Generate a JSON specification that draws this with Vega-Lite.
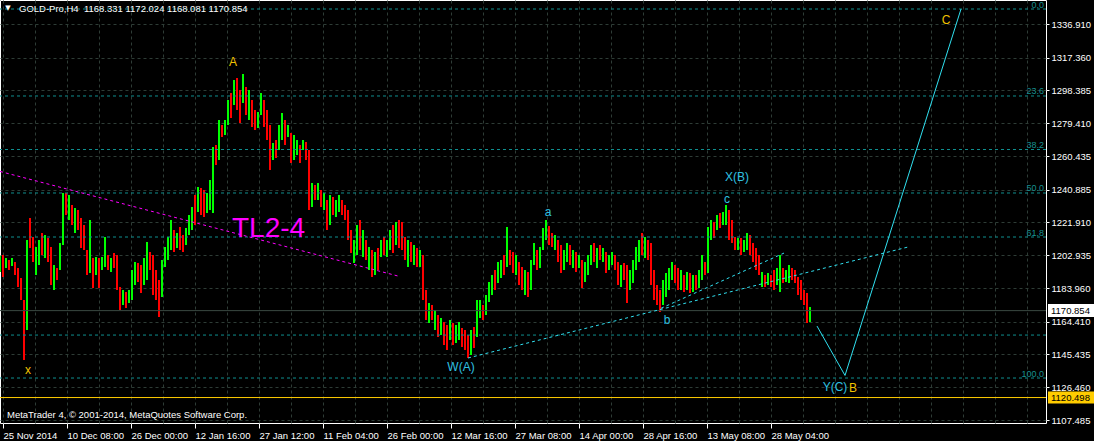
{
"$schema":"https://vega.github.io/schema/vega-lite/v6.json",
"width":1046,"height":423,
"autosize":{"type":"none"},
"padding":{"left":0,"top":0,"right":48,"bottom":18},
"background":"#000000",
"config":{"view":{"stroke":"#ffffff","strokeWidth":1},
 "axis":{"labelColor":"#ffffff","tickColor":"#ffffff","domain":false,"labelFont":"Liberation Sans","labelFontSize":9.5,"gridColor":"#2e3c36","gridDash":[3,3],"title":null}},
"resolve":{"scale":{"color":"independent"},"axis":{"x":"independent","y":"independent"}},
"datasets":{
"bars":[
{"i":0,"h":1202.5,"l":1193.2,"d":"u"},{"i":3,"h":1203.1,"l":1190.3,"d":"d"},{"i":6,"h":1201.3,"l":1195.5,"d":"u"},{"i":9,"h":1200.2,"l":1194.4,"d":"d"},{"i":12,"h":1201.3,"l":1196.7,"d":"u"},{"i":15,"h":1199.0,"l":1191.5,"d":"d"},{"i":18,"h":1195.5,"l":1184.5,"d":"d"},{"i":21,"h":1189.8,"l":1177.0,"d":"d"},{"i":24,"h":1177.0,"l":1142.2,"d":"d"},{"i":27,"h":1211.8,"l":1159.6,"d":"u"},
{"i":30,"h":1224.5,"l":1207.1,"d":"d"},{"i":33,"h":1213.5,"l":1199.0,"d":"d"},{"i":36,"h":1207.7,"l":1191.5,"d":"u"},{"i":39,"h":1211.8,"l":1197.3,"d":"u"},{"i":42,"h":1215.8,"l":1203.1,"d":"d"},{"i":45,"h":1214.7,"l":1201.3,"d":"u"},{"i":48,"h":1212.9,"l":1199.0,"d":"d"},{"i":51,"h":1207.7,"l":1185.7,"d":"d"},{"i":54,"h":1197.3,"l":1182.8,"d":"u"},{"i":57,"h":1195.5,"l":1188.6,"d":"d"},
{"i":60,"h":1210.0,"l":1194.4,"d":"u"},{"i":63,"h":1239.0,"l":1208.9,"d":"u"},{"i":66,"h":1239.0,"l":1226.3,"d":"d"},{"i":69,"h":1237.8,"l":1223.4,"d":"u"},{"i":72,"h":1232.0,"l":1220.5,"d":"d"},{"i":75,"h":1230.3,"l":1215.8,"d":"u"},{"i":78,"h":1229.2,"l":1217.6,"d":"d"},{"i":81,"h":1224.5,"l":1207.1,"d":"d"},{"i":84,"h":1220.5,"l":1206.0,"d":"d"},{"i":87,"h":1206.0,"l":1191.5,"d":"d"},
{"i":90,"h":1223.4,"l":1192.6,"d":"u"},{"i":93,"h":1201.3,"l":1183.9,"d":"d"},{"i":96,"h":1201.9,"l":1191.5,"d":"u"},{"i":99,"h":1201.3,"l":1184.0,"d":"d"},{"i":102,"h":1201.9,"l":1194.4,"d":"u"},{"i":105,"h":1213.5,"l":1196.1,"d":"u"},{"i":108,"h":1203.1,"l":1194.4,"d":"d"},{"i":111,"h":1201.3,"l":1193.2,"d":"u"},{"i":114,"h":1204.2,"l":1195.5,"d":"d"},{"i":117,"h":1203.1,"l":1182.8,"d":"d"},
{"i":120,"h":1184.5,"l":1171.2,"d":"d"},{"i":123,"h":1182.8,"l":1174.1,"d":"u"},{"i":126,"h":1181.6,"l":1172.4,"d":"d"},{"i":129,"h":1182.8,"l":1175.3,"d":"u"},{"i":132,"h":1194.4,"l":1177.0,"d":"u"},{"i":135,"h":1199.0,"l":1185.7,"d":"u"},{"i":138,"h":1198.4,"l":1187.4,"d":"d"},{"i":141,"h":1197.3,"l":1181.1,"d":"d"},{"i":144,"h":1201.3,"l":1185.7,"d":"u"},{"i":147,"h":1210.6,"l":1188.6,"d":"u"},
{"i":150,"h":1204.8,"l":1194.4,"d":"d"},{"i":153,"h":1203.1,"l":1179.9,"d":"d"},{"i":156,"h":1194.4,"l":1177.0,"d":"d"},{"i":159,"h":1188.6,"l":1167.2,"d":"d"},{"i":162,"h":1200.2,"l":1178.7,"d":"u"},{"i":165,"h":1207.7,"l":1196.1,"d":"u"},{"i":168,"h":1213.5,"l":1200.2,"d":"u"},{"i":171,"h":1223.4,"l":1206.0,"d":"u"},{"i":174,"h":1217.6,"l":1204.8,"d":"d"},{"i":177,"h":1215.8,"l":1207.1,"d":"u"},
{"i":180,"h":1219.3,"l":1206.0,"d":"d"},{"i":183,"h":1214.7,"l":1204.8,"d":"d"},{"i":186,"h":1218.7,"l":1208.9,"d":"u"},{"i":189,"h":1226.3,"l":1214.7,"d":"u"},{"i":192,"h":1230.9,"l":1217.6,"d":"u"},{"i":195,"h":1237.8,"l":1220.5,"d":"d"},{"i":198,"h":1242.5,"l":1228.0,"d":"u"},{"i":201,"h":1241.9,"l":1226.3,"d":"d"},{"i":204,"h":1240.7,"l":1225.1,"d":"d"},{"i":207,"h":1239.0,"l":1227.4,"d":"u"},
{"i":210,"h":1246.5,"l":1229.2,"d":"u"},{"i":213,"h":1265.7,"l":1227.4,"d":"u"},{"i":216,"h":1266.8,"l":1255.2,"d":"d"},{"i":219,"h":1281.3,"l":1258.1,"d":"u"},{"i":222,"h":1278.4,"l":1271.4,"d":"d"},{"i":225,"h":1281.3,"l":1272.6,"d":"u"},{"i":228,"h":1292.9,"l":1278.4,"d":"u"},{"i":231,"h":1297.0,"l":1282.4,"d":"d"},{"i":234,"h":1304.5,"l":1290.0,"d":"u"},{"i":237,"h":1305.6,"l":1287.1,"d":"d"},
{"i":240,"h":1298.7,"l":1279.6,"d":"d"},{"i":243,"h":1307.9,"l":1291.1,"d":"u"},{"i":246,"h":1300.4,"l":1284.2,"d":"d"},{"i":249,"h":1298.7,"l":1281.3,"d":"u"},{"i":252,"h":1292.9,"l":1277.2,"d":"d"},{"i":255,"h":1287.1,"l":1275.5,"d":"d"},{"i":258,"h":1285.9,"l":1276.7,"d":"u"},{"i":261,"h":1296.9,"l":1284.2,"d":"u"},{"i":264,"h":1292.9,"l":1277.2,"d":"d"},{"i":267,"h":1287.1,"l":1269.7,"d":"d"},
{"i":270,"h":1278.4,"l":1252.3,"d":"d"},{"i":273,"h":1268.0,"l":1258.1,"d":"u"},{"i":276,"h":1269.7,"l":1259.3,"d":"d"},{"i":279,"h":1278.4,"l":1263.9,"d":"u"},{"i":282,"h":1285.3,"l":1269.7,"d":"u"},{"i":285,"h":1281.3,"l":1266.8,"d":"d"},{"i":288,"h":1278.4,"l":1271.4,"d":"u"},{"i":291,"h":1273.8,"l":1256.4,"d":"d"},{"i":294,"h":1272.6,"l":1258.1,"d":"u"},{"i":297,"h":1269.7,"l":1261.0,"d":"u"},
{"i":300,"h":1266.8,"l":1256.4,"d":"d"},{"i":303,"h":1269.7,"l":1263.9,"d":"u"},{"i":306,"h":1268.5,"l":1258.1,"d":"d"},{"i":309,"h":1263.9,"l":1229.2,"d":"d"},{"i":312,"h":1244.8,"l":1230.9,"d":"u"},{"i":315,"h":1243.6,"l":1234.9,"d":"d"},{"i":318,"h":1244.8,"l":1234.9,"d":"u"},{"i":321,"h":1240.7,"l":1230.9,"d":"d"},{"i":324,"h":1239.0,"l":1229.2,"d":"u"},{"i":327,"h":1234.9,"l":1217.6,"d":"d"},
{"i":330,"h":1237.8,"l":1220.5,"d":"u"},{"i":333,"h":1236.7,"l":1226.3,"d":"d"},{"i":336,"h":1234.9,"l":1225.1,"d":"u"},{"i":339,"h":1237.8,"l":1228.0,"d":"u"},{"i":342,"h":1234.9,"l":1226.3,"d":"d"},{"i":345,"h":1232.0,"l":1223.4,"d":"d"},{"i":348,"h":1229.2,"l":1211.8,"d":"d"},{"i":351,"h":1217.6,"l":1204.2,"d":"d"},{"i":354,"h":1211.8,"l":1198.4,"d":"u"},{"i":357,"h":1220.5,"l":1203.1,"d":"u"},
{"i":360,"h":1223.4,"l":1206.0,"d":"d"},{"i":363,"h":1217.6,"l":1201.9,"d":"u"},{"i":366,"h":1211.8,"l":1200.2,"d":"d"},{"i":369,"h":1207.7,"l":1194.4,"d":"u"},{"i":372,"h":1206.0,"l":1190.3,"d":"d"},{"i":375,"h":1204.8,"l":1191.5,"d":"u"},{"i":378,"h":1207.1,"l":1194.4,"d":"d"},{"i":381,"h":1211.8,"l":1201.9,"d":"u"},{"i":384,"h":1213.5,"l":1203.1,"d":"d"},{"i":387,"h":1211.8,"l":1201.9,"d":"u"},
{"i":390,"h":1217.6,"l":1206.0,"d":"u"},{"i":393,"h":1220.5,"l":1204.2,"d":"d"},{"i":396,"h":1222.2,"l":1208.9,"d":"u"},{"i":399,"h":1223.4,"l":1207.1,"d":"d"},{"i":402,"h":1222.2,"l":1206.0,"d":"d"},{"i":405,"h":1213.5,"l":1200.2,"d":"d"},{"i":408,"h":1211.8,"l":1196.1,"d":"u"},{"i":411,"h":1210.6,"l":1199.0,"d":"d"},{"i":414,"h":1208.9,"l":1197.3,"d":"u"},{"i":417,"h":1207.1,"l":1196.1,"d":"d"},
{"i":420,"h":1206.0,"l":1196.1,"d":"u"},{"i":423,"h":1203.1,"l":1177.0,"d":"d"},{"i":426,"h":1182.8,"l":1165.4,"d":"d"},{"i":429,"h":1175.3,"l":1163.7,"d":"u"},{"i":432,"h":1174.1,"l":1165.4,"d":"d"},{"i":435,"h":1171.2,"l":1159.6,"d":"u"},{"i":438,"h":1168.3,"l":1155.6,"d":"d"},{"i":441,"h":1166.6,"l":1156.7,"d":"u"},{"i":444,"h":1164.3,"l":1150.9,"d":"d"},{"i":447,"h":1162.5,"l":1148.0,"d":"d"},
{"i":450,"h":1165.4,"l":1153.8,"d":"u"},{"i":453,"h":1163.7,"l":1150.9,"d":"d"},{"i":456,"h":1162.5,"l":1152.1,"d":"u"},{"i":459,"h":1164.3,"l":1153.8,"d":"u"},{"i":462,"h":1160.8,"l":1149.8,"d":"d"},{"i":465,"h":1159.6,"l":1148.0,"d":"d"},{"i":468,"h":1156.7,"l":1143.4,"d":"d"},{"i":471,"h":1159.6,"l":1145.1,"d":"u"},{"i":474,"h":1161.4,"l":1149.2,"d":"d"},{"i":477,"h":1177.0,"l":1155.6,"d":"u"},
{"i":480,"h":1177.0,"l":1166.6,"d":"u"},{"i":483,"h":1174.1,"l":1165.4,"d":"d"},{"i":486,"h":1179.9,"l":1168.3,"d":"u"},{"i":489,"h":1187.4,"l":1175.8,"d":"u"},{"i":492,"h":1191.5,"l":1179.9,"d":"u"},{"i":495,"h":1194.4,"l":1182.8,"d":"d"},{"i":498,"h":1199.0,"l":1186.9,"d":"u"},{"i":501,"h":1200.2,"l":1189.8,"d":"u"},{"i":504,"h":1203.1,"l":1191.5,"d":"d"},{"i":507,"h":1219.3,"l":1196.1,"d":"u"},
{"i":510,"h":1206.0,"l":1197.3,"d":"d"},{"i":513,"h":1204.8,"l":1192.6,"d":"d"},{"i":516,"h":1203.1,"l":1191.5,"d":"u"},{"i":519,"h":1199.0,"l":1185.7,"d":"d"},{"i":522,"h":1196.1,"l":1182.8,"d":"d"},{"i":525,"h":1194.4,"l":1179.9,"d":"u"},{"i":528,"h":1193.2,"l":1178.7,"d":"d"},{"i":531,"h":1200.2,"l":1182.8,"d":"u"},{"i":534,"h":1210.0,"l":1197.3,"d":"u"},{"i":537,"h":1206.0,"l":1194.4,"d":"d"},
{"i":540,"h":1207.7,"l":1195.5,"d":"u"},{"i":543,"h":1218.7,"l":1206.0,"d":"u"},{"i":546,"h":1223.4,"l":1211.8,"d":"u"},{"i":549,"h":1219.9,"l":1208.9,"d":"d"},{"i":552,"h":1215.8,"l":1207.7,"d":"d"},{"i":555,"h":1214.7,"l":1206.0,"d":"u"},{"i":558,"h":1211.8,"l":1199.0,"d":"d"},{"i":561,"h":1208.9,"l":1192.6,"d":"d"},{"i":564,"h":1206.0,"l":1194.4,"d":"u"},{"i":567,"h":1210.0,"l":1199.0,"d":"u"},
{"i":570,"h":1208.9,"l":1197.3,"d":"d"},{"i":573,"h":1206.0,"l":1195.5,"d":"u"},{"i":576,"h":1204.8,"l":1193.2,"d":"d"},{"i":579,"h":1203.1,"l":1195.5,"d":"u"},{"i":582,"h":1200.2,"l":1184.0,"d":"d"},{"i":585,"h":1199.0,"l":1187.4,"d":"u"},{"i":588,"h":1203.1,"l":1191.5,"d":"u"},{"i":591,"h":1208.9,"l":1197.3,"d":"u"},{"i":594,"h":1210.0,"l":1199.0,"d":"d"},{"i":597,"h":1207.1,"l":1195.5,"d":"u"},
{"i":600,"h":1208.9,"l":1200.2,"d":"d"},{"i":603,"h":1207.1,"l":1199.0,"d":"u"},{"i":606,"h":1204.8,"l":1192.6,"d":"d"},{"i":609,"h":1203.1,"l":1194.4,"d":"u"},{"i":612,"h":1204.8,"l":1197.3,"d":"u"},{"i":615,"h":1203.1,"l":1194.4,"d":"d"},{"i":618,"h":1199.0,"l":1185.7,"d":"d"},{"i":621,"h":1197.3,"l":1184.5,"d":"u"},{"i":624,"h":1198.4,"l":1188.6,"d":"d"},{"i":627,"h":1197.3,"l":1175.3,"d":"d"},
{"i":630,"h":1194.4,"l":1182.8,"d":"u"},{"i":633,"h":1200.2,"l":1186.9,"d":"u"},{"i":636,"h":1207.7,"l":1194.4,"d":"u"},{"i":639,"h":1211.8,"l":1199.0,"d":"u"},{"i":642,"h":1215.8,"l":1203.1,"d":"d"},{"i":645,"h":1213.5,"l":1201.3,"d":"u"},{"i":648,"h":1211.8,"l":1200.2,"d":"d"},{"i":651,"h":1210.0,"l":1185.7,"d":"d"},{"i":654,"h":1194.4,"l":1177.0,"d":"d"},{"i":657,"h":1185.7,"l":1174.1,"d":"d"},
{"i":660,"h":1182.8,"l":1170.1,"d":"d"},{"i":663,"h":1188.6,"l":1174.1,"d":"u"},{"i":666,"h":1192.6,"l":1178.7,"d":"u"},{"i":669,"h":1195.5,"l":1182.8,"d":"u"},{"i":672,"h":1199.0,"l":1188.6,"d":"u"},{"i":675,"h":1197.3,"l":1186.9,"d":"d"},{"i":678,"h":1195.5,"l":1182.8,"d":"d"},{"i":681,"h":1194.4,"l":1182.8,"d":"u"},{"i":684,"h":1191.5,"l":1181.6,"d":"d"},{"i":687,"h":1193.2,"l":1182.8,"d":"u"},
{"i":690,"h":1192.6,"l":1181.1,"d":"d"},{"i":693,"h":1191.5,"l":1181.6,"d":"u"},{"i":696,"h":1191.5,"l":1182.8,"d":"d"},{"i":699,"h":1194.4,"l":1184.0,"d":"u"},{"i":702,"h":1203.1,"l":1188.6,"d":"u"},{"i":705,"h":1199.0,"l":1191.5,"d":"d"},{"i":708,"h":1219.3,"l":1192.6,"d":"u"},{"i":711,"h":1223.4,"l":1211.8,"d":"u"},{"i":714,"h":1222.2,"l":1212.9,"d":"d"},{"i":717,"h":1226.3,"l":1217.6,"d":"u"},
{"i":720,"h":1227.4,"l":1218.7,"d":"d"},{"i":723,"h":1228.0,"l":1220.5,"d":"u"},{"i":726,"h":1232.0,"l":1220.5,"d":"u"},{"i":729,"h":1229.2,"l":1211.8,"d":"d"},{"i":732,"h":1223.4,"l":1210.0,"d":"d"},{"i":735,"h":1213.5,"l":1206.0,"d":"d"},{"i":738,"h":1212.9,"l":1206.0,"d":"u"},{"i":741,"h":1212.9,"l":1203.1,"d":"d"},{"i":744,"h":1211.8,"l":1204.8,"d":"u"},{"i":747,"h":1215.8,"l":1206.0,"d":"u"},
{"i":750,"h":1214.7,"l":1203.1,"d":"d"},{"i":753,"h":1210.0,"l":1199.0,"d":"d"},{"i":756,"h":1207.1,"l":1194.4,"d":"d"},{"i":759,"h":1203.1,"l":1191.5,"d":"d"},{"i":762,"h":1193.2,"l":1184.5,"d":"u"},{"i":765,"h":1191.5,"l":1184.5,"d":"d"},{"i":768,"h":1192.6,"l":1185.7,"d":"u"},{"i":771,"h":1191.5,"l":1184.5,"d":"d"},{"i":774,"h":1194.4,"l":1182.8,"d":"d"},{"i":777,"h":1195.5,"l":1185.7,"d":"u"},
{"i":780,"h":1203.1,"l":1181.6,"d":"u"},{"i":783,"h":1195.5,"l":1186.9,"d":"d"},{"i":786,"h":1194.4,"l":1187.4,"d":"u"},{"i":789,"h":1197.3,"l":1186.9,"d":"u"},{"i":792,"h":1195.5,"l":1188.6,"d":"d"},{"i":795,"h":1194.4,"l":1186.9,"d":"d"},{"i":798,"h":1190.3,"l":1179.9,"d":"d"},{"i":801,"h":1188.6,"l":1177.0,"d":"d"},{"i":804,"h":1182.8,"l":1174.1,"d":"d"},{"i":807,"h":1181.1,"l":1163.7,"d":"d"},
{"i":810,"h":1172.9,"l":1164.3,"d":"u"}
],
"fib":[
{"p":1345.6,"t":"0.0"},{"p":1295.2,"t":"23.6"},{"p":1264.2,"t":"38.2"},{"p":1239.0,"t":"50.0"},{"p":1213.5,"t":"61.8"},{"p":1156.7,"t":""},{"p":1131.8,"t":"100.0"}
],
"lines":[
{"g":"tl","i":0,"p":1251.5},{"g":"tl","i":398,"p":1190.9},
{"g":"wa","i":468,"p":1143.4},{"g":"wa","i":908,"p":1207.7},
{"g":"bl","i":661,"p":1172.2},{"g":"bl","i":784,"p":1204.2},
{"g":"yc","i":817,"p":1161.9},{"g":"yc","i":845,"p":1133.3},{"g":"yc","i":961,"p":1345.6}
],
"labels":[
{"t":"A","i":233,"p":1314.9,"k":"y"},{"t":"x","i":28,"p":1136.2,"k":"y"},{"t":"C","i":946,"p":1339.2,"k":"y"},{"t":"B","i":853,"p":1126.0,"k":"y"},
{"t":"Y(C)","i":835,"p":1126.6,"k":"c"},{"t":"W(A)","i":461,"p":1138.2,"k":"c"},{"t":"X(B)","i":737,"p":1248.3,"k":"c"},{"t":"a","i":548,"p":1228.2,"k":"c"},{"t":"b","i":667,"p":1165.4,"k":"c"},{"t":"c","i":727,"p":1235.3,"k":"c"}
],
"tl":[{"t":"TL2-4","i":232,"p":1218.1}],
"head":[{"t":"GOLD-Pro,H4\u00a0 1168.331 1172.024 1168.081 1170.854","i":19,"p":1345.6}],
"tri":[{"t":"\u25bc","i":8,"p":1346.0}],
"copy":[{"t":"MetaTrader 4, \u00a9 2001-2014, MetaQuotes Software Corp.","i":7,"p":1110.4}],
"bid":[{"p":1170.854,"t":"1170.854"}],
"ask":[{"p":1120.498,"t":"1120.498"}]
},
"layer":[
{"data":{"name":"bars"},
 "mark":{"type":"rule","strokeWidth":2},
 "encoding":{
  "x":{"field":"i","type":"quantitative","scale":{"domain":[0,1046],"nice":false,"zero":false},
   "axis":{"orient":"bottom","values":[3,35,67,99,131,163,195,227,259,291,323,355,387,419,451,483,515,547,579,611,643,675,707,739,771,803,835,867,899,931,963,995,1027],
    "grid":true,"tickSize":5,"tickOpacity":{"condition":{"test":"(datum.value-3)%64==0 && datum.value<800","value":1},"value":0},
    "labelAlign":"left","labelBaseline":"top","labelPadding":2,
    "labelOverlap":false,"labelBound":false,"labelFlush":false,
    "labelExpr":"(datum.value-3)%64==0 ? (['25 Nov 2014','10 Dec 08:00','26 Dec 00:00','12 Jan 16:00','27 Jan 12:00','11 Feb 04:00','26 Feb 00:00','12 Mar 16:00','27 Mar 08:00','14 Apr 00:00','28 Apr 16:00','13 May 08:00','28 May 04:00'][(datum.value-3)/64] || '') : ''"}},
  "y":{"field":"h","type":"quantitative","scale":{"domain":[1105.747,1350.815],"nice":false,"zero":false},
   "axis":{"orient":"right","values":[1107.485,1126.46,1145.435,1164.41,1183.96,1202.935,1221.91,1240.885,1260.435,1279.41,1298.385,1317.36,1336.91],"format":".3f",
    "grid":true,"tickSize":3,"labelPadding":2,"labelOverlap":false,"labelBound":false,"labelFlush":false}},
  "y2":{"field":"l"},
  "color":{"field":"d","type":"nominal","scale":{"domain":["u","d"],"range":["#00ff00","#ff0000"]},"legend":null}
 }},
{"data":{"name":"fib"},
 "mark":{"type":"rule","color":"#0f8f8f","strokeDash":[3,3],"strokeWidth":1},
 "encoding":{"y":{"field":"p","type":"quantitative","scale":{"domain":[1105.747,1350.815],"nice":false,"zero":false},"axis":null}}},
{"data":{"name":"fib"},
 "mark":{"type":"text","color":"#168f8f","font":"Liberation Sans","fontSize":9,"align":"right","baseline":"alphabetic","dx":-2,"dy":-1.5},
 "encoding":{"x":{"value":"width"},"y":{"field":"p","type":"quantitative","scale":{"domain":[1105.747,1350.815],"nice":false,"zero":false},"axis":null},"text":{"field":"t"}}},
{"data":{"name":"bid"},
 "mark":{"type":"rule","color":"#3a4842","strokeWidth":1},
 "encoding":{"y":{"field":"p","type":"quantitative","scale":{"domain":[1105.747,1350.815],"nice":false,"zero":false},"axis":null}}},
{"data":{"name":"ask"},
 "mark":{"type":"rule","color":"#ffcc00","strokeWidth":1},
 "encoding":{"y":{"field":"p","type":"quantitative","scale":{"domain":[1105.747,1350.815],"nice":false,"zero":false},"axis":null}}},
{"data":{"name":"lines"},
 "transform":[{"filter":"datum.g=='tl'"}],
 "mark":{"type":"line","color":"#ff00ff","strokeDash":[3,3],"strokeWidth":1},
 "encoding":{"x":{"field":"i","type":"quantitative","scale":{"domain":[0,1046],"nice":false,"zero":false},"axis":null},
  "y":{"field":"p","type":"quantitative","scale":{"domain":[1105.747,1350.815],"nice":false,"zero":false},"axis":null},"detail":{"field":"g"}}},
{"data":{"name":"lines"},
 "transform":[{"filter":"datum.g=='wa' || datum.g=='bl'"}],
 "mark":{"type":"line","color":"#30e0f0","strokeDash":[3,3],"strokeWidth":1},
 "encoding":{"x":{"field":"i","type":"quantitative","scale":{"domain":[0,1046],"nice":false,"zero":false},"axis":null},
  "y":{"field":"p","type":"quantitative","scale":{"domain":[1105.747,1350.815],"nice":false,"zero":false},"axis":null},"detail":{"field":"g"}}},
{"data":{"name":"lines"},
 "transform":[{"filter":"datum.g=='yc'"}],
 "mark":{"type":"line","color":"#30e0f0","strokeWidth":1},
 "encoding":{"x":{"field":"i","type":"quantitative","scale":{"domain":[0,1046],"nice":false,"zero":false},"axis":null},
  "y":{"field":"p","type":"quantitative","scale":{"domain":[1105.747,1350.815],"nice":false,"zero":false},"axis":null},"order":{"field":"i"}}},
{"data":{"name":"labels"},
 "transform":[{"filter":"datum.k=='y'"}],
 "mark":{"type":"text","font":"Liberation Sans","fontSize":12,"align":"center","baseline":"middle","color":"#f2c200"},
 "encoding":{"x":{"field":"i","type":"quantitative","scale":{"domain":[0,1046],"nice":false,"zero":false},"axis":null},
  "y":{"field":"p","type":"quantitative","scale":{"domain":[1105.747,1350.815],"nice":false,"zero":false},"axis":null},
  "text":{"field":"t"}}},
{"data":{"name":"labels"},
 "transform":[{"filter":"datum.k=='c'"}],
 "mark":{"type":"text","font":"Liberation Sans","fontSize":12,"align":"center","baseline":"middle","color":"#2fc0e0"},
 "encoding":{"x":{"field":"i","type":"quantitative","scale":{"domain":[0,1046],"nice":false,"zero":false},"axis":null},
  "y":{"field":"p","type":"quantitative","scale":{"domain":[1105.747,1350.815],"nice":false,"zero":false},"axis":null},
  "text":{"field":"t"}}},
{"data":{"name":"tl"},
 "mark":{"type":"text","font":"Liberation Sans","fontSize":28,"align":"left","baseline":"middle","color":"#ff00ff"},
 "encoding":{"x":{"field":"i","type":"quantitative","scale":{"domain":[0,1046],"nice":false,"zero":false},"axis":null},
  "y":{"field":"p","type":"quantitative","scale":{"domain":[1105.747,1350.815],"nice":false,"zero":false},"axis":null},"text":{"field":"t"}}},
{"data":{"name":"head"},
 "mark":{"type":"text","font":"Liberation Sans","fontSize":9.5,"align":"left","baseline":"middle","color":"#ffffff"},
 "encoding":{"x":{"field":"i","type":"quantitative","scale":{"domain":[0,1046],"nice":false,"zero":false},"axis":null},
  "y":{"field":"p","type":"quantitative","scale":{"domain":[1105.747,1350.815],"nice":false,"zero":false},"axis":null},"text":{"field":"t"}}},
{"data":{"name":"tri"},
 "mark":{"type":"text","font":"DejaVu Sans","fontSize":7,"align":"center","baseline":"middle","color":"#ffffff"},
 "encoding":{"x":{"field":"i","type":"quantitative","scale":{"domain":[0,1046],"nice":false,"zero":false},"axis":null},
  "y":{"field":"p","type":"quantitative","scale":{"domain":[1105.747,1350.815],"nice":false,"zero":false},"axis":null},"text":{"field":"t"}}},
{"data":{"name":"copy"},
 "mark":{"type":"text","font":"Liberation Sans","fontSize":9.5,"align":"left","baseline":"middle","color":"#ffffff"},
 "encoding":{"x":{"field":"i","type":"quantitative","scale":{"domain":[0,1046],"nice":false,"zero":false},"axis":null},
  "y":{"field":"p","type":"quantitative","scale":{"domain":[1105.747,1350.815],"nice":false,"zero":false},"axis":null},"text":{"field":"t"}}},
{"data":{"name":"bid"},
 "mark":{"type":"rule","color":"#ffffff","strokeWidth":13,"strokeCap":"butt"},
 "encoding":{"x":{"datum":1048,"type":"quantitative","scale":{"domain":[0,1046],"nice":false,"zero":false},"axis":null},"x2":{"datum":1094},
  "y":{"field":"p","type":"quantitative","scale":{"domain":[1105.747,1350.815],"nice":false,"zero":false},"axis":null}}},
{"data":{"name":"ask"},
 "mark":{"type":"rule","color":"#ffcc00","strokeWidth":12,"strokeCap":"butt"},
 "encoding":{"x":{"datum":1048,"type":"quantitative","scale":{"domain":[0,1046],"nice":false,"zero":false},"axis":null},"x2":{"datum":1094},
  "y":{"field":"p","type":"quantitative","scale":{"domain":[1105.747,1350.815],"nice":false,"zero":false},"axis":null}}},
{"data":{"name":"bid"},
 "mark":{"type":"text","font":"Liberation Sans","fontSize":9.5,"align":"left","baseline":"middle","color":"#000000"},
 "encoding":{"x":{"datum":1051,"type":"quantitative","scale":{"domain":[0,1046],"nice":false,"zero":false},"axis":null},
  "y":{"field":"p","type":"quantitative","scale":{"domain":[1105.747,1350.815],"nice":false,"zero":false},"axis":null},"text":{"field":"t"}}},
{"data":{"name":"ask"},
 "mark":{"type":"text","font":"Liberation Sans","fontSize":9.5,"align":"left","baseline":"middle","color":"#000000"},
 "encoding":{"x":{"datum":1051,"type":"quantitative","scale":{"domain":[0,1046],"nice":false,"zero":false},"axis":null},
  "y":{"field":"p","type":"quantitative","scale":{"domain":[1105.747,1350.815],"nice":false,"zero":false},"axis":null},"text":{"field":"t"}}}
]
}
